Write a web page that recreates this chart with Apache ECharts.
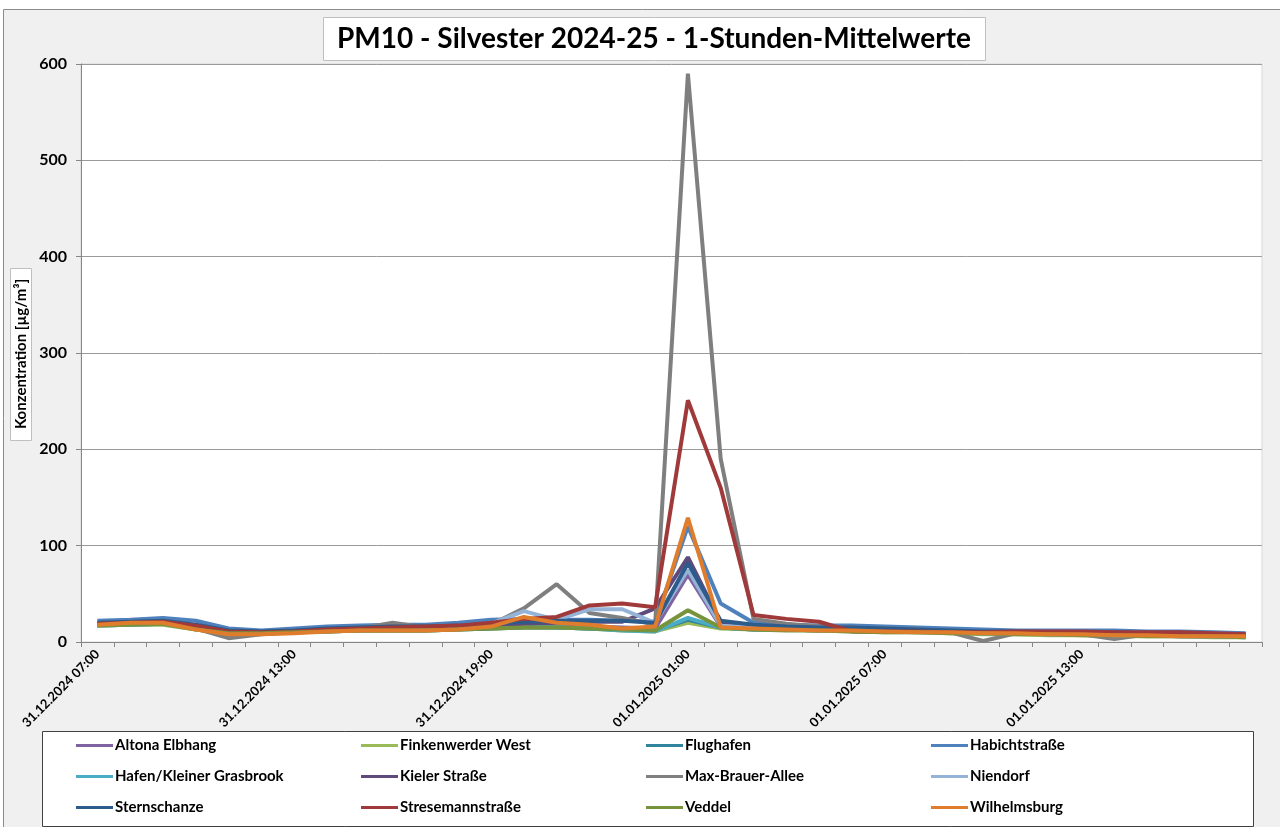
<!DOCTYPE html>
<html>
<head>
<meta charset="utf-8">
<script src="https://cdn.jsdelivr.net/npm/echarts@6/dist/echarts.min.js"></script>
<style>
  html, body { margin: 0; padding: 0; background: #fff; }
  #chart { width: 1280px; height: 827px; }
</style>
</head>
<body>
<div id="chart"></div>
<script>
// hourly categories, 31.12.2024 07:00 .. 01.01.2025 18:00
const hours = [];
for (let h = 7; h <= 23; h++) hours.push('31.12.2024 ' + String(h).padStart(2, '0') + ':00');
for (let h = 0; h <= 18; h++) hours.push('01.01.2025 ' + String(h).padStart(2, '0') + ':00');

const stationNames = [
  'Altona Elbhang', 'Finkenwerder West', 'Flughafen', 'Habichtstraße',
  'Hafen/Kleiner Grasbrook', 'Kieler Straße', 'Max-Brauer-Allee', 'Niendorf',
  'Sternschanze', 'Stresemannstraße', 'Veddel', 'Wilhelmsburg'
];

const altonaElbhang = [18,19,20,15,9,9,10,12,13,13,13,14,16,18,17,16,15,14,70,16,14,13,13,12,12,11,11,10,9,9,8,8,8,7,7,6];
const finkenwerderWest = [17,18,18,13,9,9,10,11,12,12,12,13,14,15,15,14,12,11,20,14,13,13,12,11,10,10,9,8,8,7,7,6,6,6,5,5];
const flughafen = [17,18,19,14,9,9,10,11,12,12,12,13,14,15,15,14,13,12,23,15,13,13,12,12,11,11,10,9,9,8,8,7,7,6,6,6];
const habichtstrasse = [22,23,25,22,14,12,14,16,17,18,18,20,23,24,23,23,22,21,120,40,20,18,17,17,16,15,14,13,12,12,12,12,11,11,10,9];
const hafenKleinerGrasbrook = [18,19,20,15,10,10,11,12,13,13,13,14,15,16,15,14,12,11,25,15,13,13,12,12,11,10,10,9,9,8,8,7,7,6,6,5];
const kielerStrasse = [19,20,21,16,10,10,11,12,13,14,14,15,17,19,20,21,21,35,88,20,17,15,14,14,13,12,11,10,10,9,9,8,8,7,7,7];
const maxBrauerAllee = [19,20,21,14,4,8,10,12,14,20,15,16,18,35,60,30,25,18,590,190,24,19,16,15,14,13,10,1,9,9,8,3,8,8,7,7];
const niendorf = [17,18,19,14,9,9,10,12,13,14,15,16,19,32,23,34,34,20,75,17,15,14,13,12,11,11,10,9,9,8,8,7,7,7,6,6];
const sternschanze = [20,21,22,18,12,11,12,14,15,16,16,17,19,21,22,22,22,20,82,22,18,16,15,15,14,13,12,11,11,10,10,10,9,9,8,8];
const stresemannstrasse = [19,20,21,17,11,10,11,13,14,15,16,17,20,24,26,38,40,36,251,160,28,24,21,11,11,11,10,10,11,11,11,10,10,10,9,8];
const veddel = [17,18,19,13,9,9,10,11,12,12,12,13,14,15,15,14,13,12,33,15,13,12,12,11,10,10,9,9,8,8,7,7,6,6,6,5];
const wilhelmsburg = [18,20,20,13,8,8,9,11,12,12,12,13,16,26,20,18,14,16,129,15,14,13,12,12,11,10,10,9,9,8,8,7,7,6,6,6];

const stationValues = [
  altonaElbhang, finkenwerderWest, flughafen, habichtstrasse,
  hafenKleinerGrasbrook, kielerStrasse, maxBrauerAllee, niendorf,
  sternschanze, stresemannstrasse, veddel, wilhelmsburg
];
const stationColors = [
  '#8064A2', '#9BBB59', '#31859C', '#4F81BD',
  '#4BACC6', '#604A7B', '#7F7F7F', '#95B3D7',
  '#2C5B8C', '#A0393A', '#77933C', '#E07D2C'
];

const FONT = 'Lato, "Open Sans", sans-serif';

const chart = echarts.init(document.getElementById('chart'));
const option = {
  backgroundColor: '#ffffff',
  animation: false,
  textStyle: { fontFamily: FONT },
  graphic: [
    // chart area
    { type: 'rect', left: 3, top: 9, z: -10, silent: true,
      shape: { width: 1290, height: 830 },
      style: { fill: '#f0f0f0', stroke: '#8c8c8c', lineWidth: 1 } },
    // title box
    { type: 'rect', left: 323, top: 17, z: 1,
      shape: { width: 662, height: 43 },
      style: { fill: '#ffffff', stroke: '#bfbfbf', lineWidth: 1 } },
    { type: 'text', x: 654, y: 39, z: 2,
      style: { text: 'PM10 - Silvester 2024-25 - 1-Stunden-Mittelwerte',
        font: 'bold 28px ' + FONT, fill: '#000', align: 'center', verticalAlign: 'middle' } },
    // y axis name box
    { type: 'rect', left: 10, top: 268, z: 1,
      shape: { width: 21, height: 172 },
      style: { fill: '#ffffff', stroke: '#bfbfbf', lineWidth: 1 } },
    { type: 'text', x: 21, y: 354, rotation: Math.PI / 2, z: 2,
      style: { text: 'Konzentration [µg/m³]', font: 'bold 15px ' + FONT,
        fill: '#000', align: 'center', verticalAlign: 'middle' } },
    // legend box
    { type: 'rect', left: 42, top: 731, z: 1,
      shape: { width: 1211, height: 95 },
      style: { fill: '#ffffff', stroke: '#404040', lineWidth: 1 } }
  ],
  grid: {
    left: 81, right: 18, top: 64, bottom: 185,
    show: true, backgroundColor: '#ffffff', borderColor: '#d9d9d9', borderWidth: 1
  },
  legend: {
    left: 76, top: 735, width: 1170, padding: 0,
    itemWidth: 37, itemHeight: 3, itemGap: 10,
    icon: 'rect',
    data: stationNames,
    textStyle: { fontFamily: FONT, fontWeight: 'bold', fontSize: 15, color: '#000',
      width: 236, lineHeight: 21, padding: [0, 0, 0, -3] }
  },
  xAxis: {
    type: 'category',
    data: hours,
    boundaryGap: true,
    axisLine: { lineStyle: { color: '#868686', width: 1 } },
    axisTick: { show: true, interval: 0, length: 5, lineStyle: { color: '#868686' } },
    axisLabel: { interval: 5, rotate: 45, fontSize: 13, fontWeight: 'bold',
      color: '#000', fontFamily: FONT, margin: 10 },
    splitLine: { show: false }
  },
  yAxis: {
    type: 'value',
    min: 0, max: 600, interval: 100,
    axisLine: { show: true, lineStyle: { color: '#868686', width: 1 } },
    axisTick: { show: true, length: 5, lineStyle: { color: '#868686' } },
    axisLabel: { fontSize: 16, fontWeight: 'bold', color: '#000', fontFamily: FONT, margin: 14 },
    splitLine: { show: true, lineStyle: { color: '#9a9a9a', width: 1 } }
  },
  series: stationNames.map((name, i) => ({
    name: name,
    type: 'line',
    data: stationValues[i],
    symbol: 'none',
    lineStyle: { width: 4, color: stationColors[i] },
    itemStyle: { color: stationColors[i] }
  }))
};
chart.setOption(option);
</script>
</body>
</html>
